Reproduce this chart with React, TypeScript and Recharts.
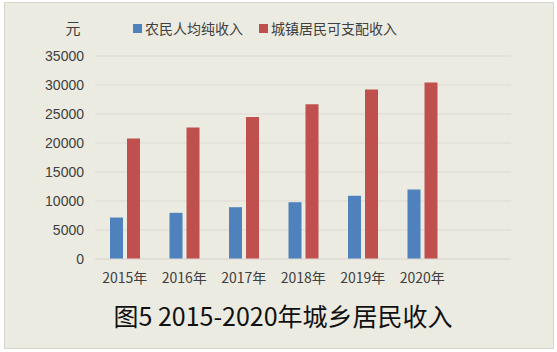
import React from 'react';
import { BarChart, Bar, XAxis, YAxis, CartesianGrid, Legend } from 'recharts';

const years = ['2015年', '2016年', '2017年', '2018年', '2019年', '2020年'];
const ruralIncome = [7150, 7960, 8930, 9790, 10900, 11990];
const urbanIncome = [20760, 22660, 24500, 26690, 29240, 30450];
const yTicks = [0, 5000, 10000, 15000, 20000, 25000, 30000, 35000];

const SERIES = [
    { key: 'rural', name: '农民人均纯收入', color: '#4f81bd' },
    { key: 'urban', name: '城镇居民可支配收入', color: '#c0504d' },
];

const data = years.map((year, i) => ({ year, rural: ruralIncome[i], urban: urbanIncome[i] }));

const CJK = '"Noto Sans CJK SC", "Noto Sans", sans-serif';
const GRID = '#dcdad1';

function LegendContent({ payload }: any) {
    return (
        <div style={{ display: 'flex', alignItems: 'center', fontFamily: CJK, fontSize: 14, color: '#404040', height: 20 }}>
            {(payload || []).map((p: any) => (
                <span key={p.value} style={{ display: 'flex', alignItems: 'center', marginRight: 16 }}>
                    <span style={{ width: 9, height: 9, background: p.color, marginRight: 3, display: 'inline-block' }} />
                    {p.value}
                </span>
            ))}
        </div>
    );
}

export default function App() {
    return (
        <div style={{ position: 'absolute', left: 0, top: 0, width: 557, height: 352, background: '#ffffff' }}>
            <div
                style={{
                    position: 'absolute', left: 4, top: 2, width: 548, height: 345,
                    background: '#ecebe2', border: '1px solid #d6d5cc',
                }}
            />
            <div style={{ position: 'absolute', left: 0, top: 0 }}>
                <BarChart
                    width={557}
                    height={352}
                    data={data}
                    margin={{ top: 36, right: 46, left: 35, bottom: 63 }}
                    barSize={13}
                    barGap={4}
                >
                    <CartesianGrid vertical={false} stroke={GRID} strokeWidth={1.2} />
                    <XAxis
                        dataKey="year"
                        padding={{ left: 0, right: 59 }}
                        axisLine={{ stroke: GRID, strokeWidth: 1.2 }}
                        tickLine={false}
                        tickMargin={8}
                        height={30}
                        interval={0}
                        tick={{ fill: '#404040', fontSize: 14, fontFamily: CJK }}
                    />
                    <YAxis
                        width={60}
                        domain={[0, 35000]}
                        ticks={yTicks}
                        axisLine={false}
                        tickLine={false}
                        tickMargin={5}
                        tick={{ fill: '#404040', fontSize: 14, fontFamily: '"Liberation Sans", Arial, sans-serif' }}
                    />
                    <Legend
                        verticalAlign="top"
                        align="left"
                        height={20}
                        content={<LegendContent />}
                        wrapperStyle={{ top: 18, left: 133, width: 'auto' }}
                    />
                    {SERIES.map((s) => (
                        <Bar key={s.key} dataKey={s.key} name={s.name} fill={s.color} isAnimationActive={false} />
                    ))}
                </BarChart>
            </div>
            <div
                style={{
                    position: 'absolute', left: 59, top: 18, fontFamily: CJK, fontSize: 15,
                    color: '#404040', width: 28, textAlign: 'center', lineHeight: '20px',
                }}
            >
                元
            </div>
            <div
                style={{
                    position: 'absolute', left: 0, width: 566, top: 299, textAlign: 'center',
                    fontFamily: CJK, fontSize: 25, color: '#111111', lineHeight: '32px',
                }}
            >
                图5 2015-2020年城乡居民收入
            </div>
        </div>
    );
}
